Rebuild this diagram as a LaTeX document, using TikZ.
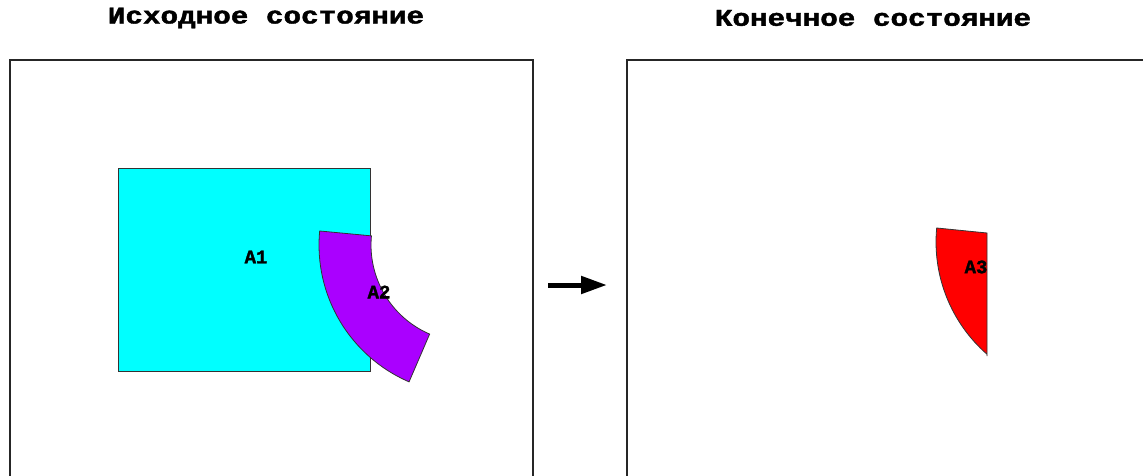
\documentclass[tikz,border=0pt]{standalone}
\usepackage{fontspec}
\newfontfamily\monof[BoldFeatures={FakeBold=1.6}]{Liberation Mono}
\usetikzlibrary{arrows.meta,calc}
\definecolor{acyan}{RGB}{0,255,255}
\definecolor{apurple}{RGB}{170,0,255}
\definecolor{ared}{RGB}{255,0,0}
\tikzset{
  frame/.style={draw=black!85, line width=2pt},
  region/.style={draw=black!80, line width=0.8pt},
  title/.style={font=\monof\bfseries\fontsize{24}{24}\selectfont, xscale=1.22, inner sep=0pt},
  lbl/.style={font=\monof\bfseries\fontsize{19}{19}\selectfont, inner sep=0pt},
}
\begin{document}
\begin{tikzpicture}[x=1pt,y=1pt]
\useasboundingbox (0,0) rectangle (1143,-476);
% titles
\node[title] (t1) at (266,-18) {Исходное состояние};
\node[title] (t2) at (873,-18) {Конечное состояние};
% frames
\draw[frame] (10,-480) -- (10,-60) -- (533,-60) -- (533,-480);
\draw[frame] (627,-480) -- (627,-60) -- (1150,-60);
% A1 square
\filldraw[region, fill=acyan] (118,-168) rectangle (370,-371);
% A2 sector
\filldraw[region, fill=apurple, shift={(468,-245)}]
  (174.6:149) arc[start angle=174.6, end angle=246.7, radius=149]
  -- (246.7:97) arc[start angle=246.7, end angle=174.6, radius=97] -- cycle;
% A3 intersection
\filldraw[region, fill=ared]
  (987,-356) -- (987,-233) -- ($(1085,-242)+(174.6:149)$)
  arc[start angle=174.6, end angle=228.9, radius=149] -- cycle;
% labels
\node[lbl] (a1) at (256,-257) {A1};
\node[lbl] (a2) at (379,-292) {A2};
\node[lbl] (a3) at (976,-267) {A3};
% arrow
\coordinate (s) at (548,-285);
\coordinate (e) at (607,-285);
\draw[line width=5pt, -{Triangle[length=26pt, width=17pt]}] (s) -- (e);
\end{tikzpicture}
\end{document}
